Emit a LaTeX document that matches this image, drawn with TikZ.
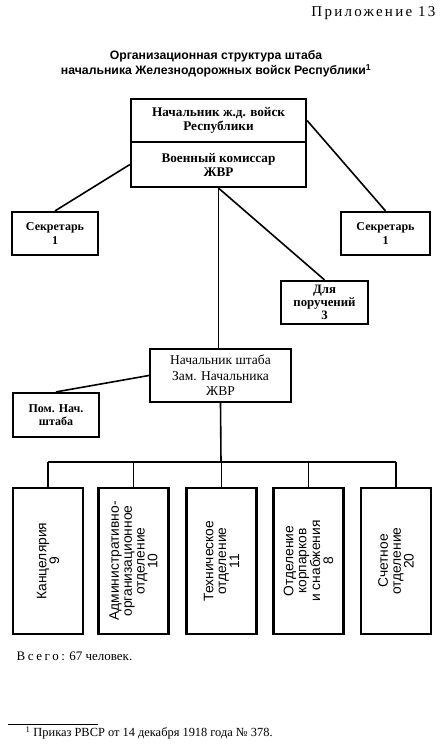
\documentclass[tikz,border=0pt]{standalone}
\usepackage{fontspec}
\setmainfont{Liberation Serif}
\newfontfamily\titlefont{Liberation Sans}
\newfontfamily\deptfont{Liberation Sans}
\usepackage{tikz}
\usetikzlibrary{positioning,calc}
\tikzset{
 box/.style={draw=black,line width=2.2pt,align=center,inner sep=2pt,
   font=\fontsize{12}{13.5}\selectfont\bfseries},
 headbox/.style={box,minimum width=175pt,font=\fontsize{13.2}{14}\selectfont\bfseries},
 plain/.style={box,font=\fontsize{13.5}{15.5}\selectfont},
 dept/.style={draw=black,line width=2.2pt,minimum width=70pt,minimum height=146pt,inner sep=0pt},
 depttext/.style={rotate=90,align=center,inner sep=0pt,
   font=\deptfont\fontsize{13.8}{12.8}\selectfont},
 conn/.style={line width=1.6pt,draw=black}
}
\begin{document}
\begin{tikzpicture}[x=1pt,y=-1pt]
\useasboundingbox (0,0) rectangle (446,750);
\node[anchor=east,font=\fontsize{15}{16}\selectfont\addfontfeature{LetterSpace=15}] (app) at (439,13) {Приложение 13};
\node[align=center,font=\titlefont\bfseries\fontsize{12.25}{15}\selectfont] (title) at (216,64) {Организационная структура штаба\\начальника Железнодорожных войск Республики\textsuperscript{1}};
% head of the troops
\node[headbox,minimum height=43pt] (nach) at (218.5,120.5) {Начальник ж.д. войск\\Республики};
\node[headbox,minimum height=45pt] (komiss) at (218.5,164.5) {Военный комиссар\\ЖВР};
\node[box,minimum width=86pt,minimum height=43pt] (sec1) at (55,233.5) {Секретарь\\1};
\node[box,minimum width=89pt,minimum height=43pt] (sec2) at (385.5,233.5) {Секретарь\\1};
\node[box,minimum width=87pt,minimum height=43pt,font=\fontsize{12.8}{12.8}\selectfont\bfseries] (poruch) at (324.5,302.5) {Для\\поручений\\3};
\node[plain,minimum width=141pt,minimum height=53pt] (nsh) at (220.5,375.5) {Начальник штаба\\Зам. Начальника\\ЖВР};
\node[box,minimum width=86pt,minimum height=44pt] (pom) at (56,415) {Пом. Нач.\\штаба};
% departments
\node[dept] (d1) at (48,561) {};
\node[dept] (d2) at (133.5,561) {};
\node[dept] (d3) at (221.5,561) {};
\node[dept] (d4) at (308.5,561) {};
\node[dept] (d5) at (396,561) {};
\node[depttext] (t1) at (d1) {Канцелярия\\9};
\node[depttext] (t2) at (d2) {Административно-\\организационное\\отделение\\10};
\node[depttext] (t3) at (d3) {Техническое\\отделение\\11};
\node[depttext] (t4) at (d4) {Отделение\\корпарков\\и снабжения\\8};
\node[depttext] (t5) at (d5) {Счетное\\отделение\\20};
\coordinate (bus) at (221,462);
% connectors
\draw[conn] (komiss.west) -- (sec1.north);
\draw[conn] (nach.east) -- (sec2.north);
\draw[conn] (komiss.south) -- (komiss.south |- nsh.north);
\draw[conn] (komiss.south) -- (poruch.north);
\draw[conn] (nsh.west) -- (pom.north);
\draw[conn] (nsh.south) -- (bus);
\draw[conn] (d1.north |- bus) -- (d5.north |- bus);
\foreach \i in {1,...,5} \draw[conn] (d\i.north) -- (d\i.north |- bus);
% notes
\node[anchor=west,font=\fontsize{13}{14}\selectfont] (total) at (13,656) {{\addfontfeature{LetterSpace=20}Всего:} 67 человек.};
\draw[line width=0.7pt] (8,724) -- (98,724);
\node[anchor=west,font=\fontsize{12.4}{13}\selectfont] (fn) at (22,733) {\textsuperscript{1} Приказ РВСР от 14 декабря 1918 года № 378.};
\end{tikzpicture}
\end{document}
